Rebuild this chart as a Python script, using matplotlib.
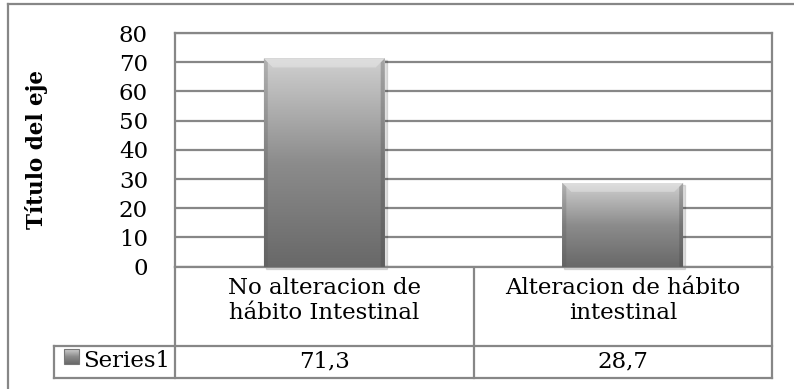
import numpy as np
import matplotlib.pyplot as plt
from matplotlib.colors import LinearSegmentedColormap
from matplotlib.patches import Polygon

# Datos
categorias = ['No alteracion de\nhábito Intestinal', 'Alteracion de hábito\nintestinal']
valores = [71.3, 28.7]
serie = 'Series1'
etiquetas = ['71,3', '28,7']

W, H = 794, 389
plt.rcParams['font.family'] = ['DejaVu Serif']
gris = '#878787'
texto = '#000000'
fs = 16.5

fig = plt.figure(figsize=(W / 100, H / 100), dpi=100)

# capa en pixeles para marco y tabla
bg = fig.add_axes([0, 0, 1, 1])
bg.axis('off')

x0, x1, y0, y1 = 175, 772, 33, 266.7
ax = fig.add_axes([x0 / W, 1 - y1 / H, (x1 - x0) / W, (y1 - y0) / H])
ax.set_xlim(-0.5, 1.5)
ax.set_ylim(0, 80)
ax.set_yticks(range(0, 81, 10))
ax.set_yticklabels([str(v) for v in range(0, 81, 10)], fontsize=fs, color=texto)
ax.tick_params(axis='y', length=0, pad=19.5)
ax.set_xticks([])
ax.grid(axis='y', color=gris, linewidth=1.6)
ax.set_axisbelow(True)
for s in ax.spines.values():
    s.set_color(gris)
    s.set_linewidth(1.6)
ax.set_ylabel('Título del eje', fontsize=15.5, fontweight='bold', color=texto)
ax.yaxis.set_label_coords((48 - x0) / (x1 - x0), 0.5)

# barras con degradado
cmap = LinearSegmentedColormap.from_list('g', ['#686868', '#8c8c8c', '#d0d0d0'])
grad = np.linspace(0, 1, 256).reshape(-1, 1)
barras = ax.bar(range(len(valores)), valores, width=0.405, color='none', zorder=3)
dx = 2 / (x1 - x0)
dy = 80 / (y1 - y0)
for b in barras:
    bx, by = b.get_x(), b.get_y()
    bw, bh = b.get_width(), b.get_height()
    # sombra
    ax.add_patch(plt.Rectangle((bx + 2 * dx, by - 2 * dy), bw, bh, color='#000000',
                               alpha=0.12, zorder=2, clip_on=False))
    im = ax.imshow(grad, cmap=cmap, extent=[bx, bx + bw, by, by + bh],
                   aspect='auto', origin='lower', zorder=3)
    im.set_clip_path(b)
    # bisel
    e = 9
    top = Polygon([(bx, by + bh), (bx + bw, by + bh), (bx + bw - e * dx, by + bh - e * dy),
                   (bx + e * dx, by + bh - e * dy)], closed=True, color='white', alpha=0.3,
                  zorder=4, lw=0)
    izq = Polygon([(bx, by), (bx, by + bh), (bx + 4 * dx, by + bh - 4 * dy), (bx + 4 * dx, by)],
                  closed=True, color='#555555', alpha=0.25, zorder=4, lw=0)
    der = Polygon([(bx + bw, by), (bx + bw, by + bh), (bx + bw - 4 * dx, by + bh - 4 * dy),
                   (bx + bw - 4 * dx, by)], closed=True, color='#444444', alpha=0.3,
                  zorder=4, lw=0)
    for p in (top, izq, der):
        ax.add_patch(p)
ax.set_xlim(-0.5, 1.5)
ax.set_ylim(0, 80)

# clave de la serie
kx, ky, ks = 64, 349, 15
bg.imshow(grad, cmap=cmap, aspect='auto', origin='lower',
          extent=[kx, kx + ks, ky + ks, ky])
bg.add_patch(plt.Rectangle((kx, ky), ks, ks, fill=False, edgecolor='#777777', lw=0.8))

# marco exterior
bg.plot([8, 8], [4, H + 5], color=gris, lw=1.6)
bg.plot([8, W + 5], [4, 4], color=gris, lw=1.6)

# tabla de datos
xm = 474
ys, yb = 346, 378
xl = 54
lw = 1.6
bg.plot([x0, x0], [y1, yb], color=gris, lw=lw)
bg.plot([xm, xm], [y1, yb], color=gris, lw=lw)
bg.plot([x1, x1], [y1, yb], color=gris, lw=lw)
bg.plot([xl, x1], [ys, ys], color=gris, lw=lw)
bg.plot([xl, x1], [yb, yb], color=gris, lw=lw)
bg.plot([xl, xl], [ys, yb], color=gris, lw=lw)

centros = [(x0 + xm) / 2, (xm + x1) / 2]
for c, cat, et in zip(centros, categorias, etiquetas):
    bg.text(c, (y1 + ys) / 2 - 6, cat, ha='center', va='center', fontsize=fs,
            color=texto, linespacing=1.2)
    bg.text(c, (ys + yb) / 2 - 1, et, ha='center', va='center', fontsize=fs, color=texto)

bg.text(83, (ys + yb) / 2 - 1, serie, ha='left', va='center', fontsize=fs, color=texto)

bg.set_xlim(0, W)
bg.set_ylim(H, 0)

fig.savefig('out.png', dpi=100)
